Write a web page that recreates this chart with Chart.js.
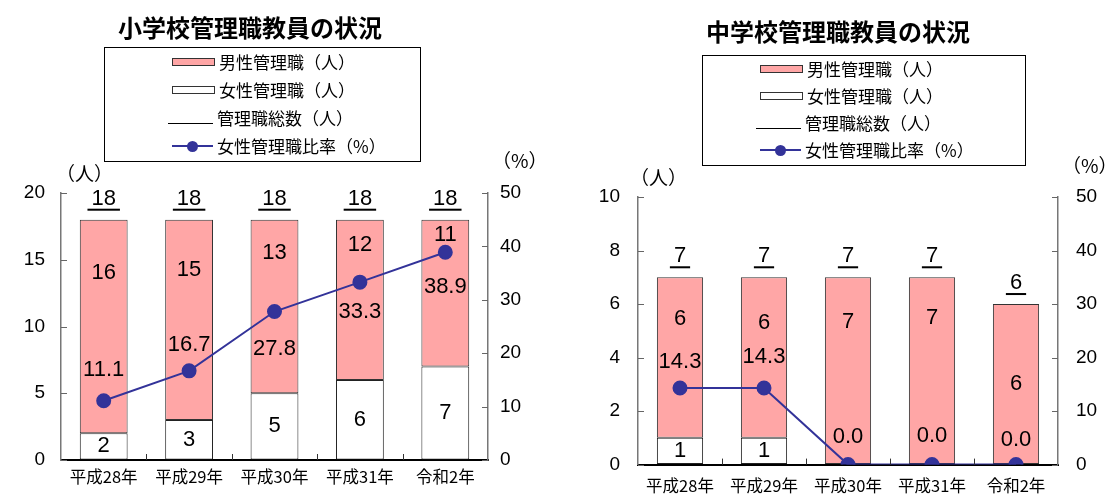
<!DOCTYPE html>
<html>
<head>
<meta charset="utf-8">
<script src="https://cdn.jsdelivr.net/npm/chart.js@4.4.0/dist/chart.umd.min.js"></script>
<style>
  body { margin: 0; background: #fff; width: 1108px; height: 494px; overflow: hidden; position: relative;
         font-family: "Noto Sans CJK JP", sans-serif; color: #000; }
  .pane { position: absolute; top: 0; width: 554px; height: 494px; }
  .pane canvas { position: absolute; left: 0; top: 0; }
  .title { position: absolute; font-weight: bold; font-size: 24px; line-height: 1; white-space: nowrap;
           transform: translateX(-50%); }
  .legend { position: absolute; border: 1px solid #000; box-sizing: border-box; background: #fff; }
  .row { position: absolute; left: 0; height: 20px; display: flex; align-items: center; font-size: 17px;
         line-height: 20px; white-space: nowrap; }
  .sw { display: inline-block; width: 41px; height: 6px; border: 1px solid #333; margin-right: 4px; }
  .ln { display: inline-block; width: 45px; height: 20px; margin-right: 4px; position: relative; }
  .ln.total::after { content: ""; position: absolute; left: 0; right: 0; top: 15px; border-top: 1px solid #000; }
  .ln.ratio::before { content: ""; position: absolute; left: 4px; right: 0; top: 9px; border-top: 2px solid #333399; }
  .ln.ratio::after { content: ""; position: absolute; left: 19px; top: 5px; width: 11px; height: 11px;
                     border-radius: 50%; background: #333399; }
  .unit { position: absolute; font-size: 19px; line-height: 1; white-space: nowrap; }
</style>
</head>
<body>

<div class="pane" style="left:0">
  <canvas id="elem" width="554" height="494"></canvas>
  <div class="title" style="left:250px;top:15px">小学校管理職教員の状況</div>
  <div class="legend" style="left:104px;top:47px;width:317px;height:115px">
    <div class="row" style="left:67px;top:4px"><span class="sw" style="background:#FFA6A6"></span>男性管理職（人）</div>
    <div class="row" style="left:67px;top:32px"><span class="sw" style="background:#fff"></span>女性管理職（人）</div>
    <div class="row" style="left:63px;top:60px"><span class="ln total"></span>管理職総数（人）</div>
    <div class="row" style="left:63px;top:88px"><span class="ln ratio"></span>女性管理職比率（%）</div>
  </div>
  <div class="unit" style="left:56px;top:163px">（人）</div>
  <div class="unit" style="left:492px;top:150px">（%）</div>
</div>

<div class="pane" style="left:554px">
  <canvas id="junior" width="554" height="494"></canvas>
  <div class="title" style="left:284px;top:19px">中学校管理職教員の状況</div>
  <div class="legend" style="left:148px;top:55px;width:324px;height:111px">
    <div class="row" style="left:57px;top:3px"><span class="sw" style="background:#FFA6A6"></span>男性管理職（人）</div>
    <div class="row" style="left:57px;top:30px"><span class="sw" style="background:#fff"></span>女性管理職（人）</div>
    <div class="row" style="left:53px;top:57px"><span class="ln total"></span>管理職総数（人）</div>
    <div class="row" style="left:53px;top:84px"><span class="ln ratio"></span>女性管理職比率（%）</div>
  </div>
  <div class="unit" style="left:76px;top:167px">（人）</div>
  <div class="unit" style="left:508px;top:155px">（%）</div>
</div>

<script>
// categories
var years = ['平成28年', '平成29年', '平成30年', '平成31年', '令和2年']

// 小学校
var elemFemale = [2, 3, 5, 6, 7]
var elemMale = [16, 15, 13, 12, 11]
var elemTotal = [18, 18, 18, 18, 18]
var elemRatio = [11.1, 16.7, 27.8, 33.3, 38.9]

// 中学校
var juniorFemale = [1, 1, 0, 0, 0]
var juniorMale = [6, 6, 7, 7, 6]
var juniorTotal = [7, 7, 7, 7, 6]
var juniorRatio = [14.3, 14.3, 0.0, 0.0, 0.0]

var numFont = '22px "Liberation Sans", Arial, sans-serif'

// value labels drawn on top of the bars / points
var valueLabels = {
  id: 'valueLabels',
  afterDatasetsDraw: function (chart) {
    var ctx = chart.ctx
    ctx.save()
    ctx.font = numFont
    ctx.fillStyle = '#000'
    ctx.textAlign = 'center'
    ctx.textBaseline = 'middle'
    chart.data.datasets.forEach(function (ds, di) {
      var lab = ds.valueLabel
      if (!lab) return
      var meta = chart.getDatasetMeta(di)
      meta.data.forEach(function (el, i) {
        var v = ds.data[i]
        if (lab.skipZero && v === 0) return
        var txt = lab.decimals ? v.toFixed(lab.decimals) : String(v)
        var y
        if (lab.mode === 'segment') y = (el.y + el.base) / 2
        else y = el.y
        y += lab.dy ? lab.dy[i] : 0
        ctx.fillText(txt, el.x, y)
        if (lab.underline) {
          var w = ctx.measureText(txt).width + 8
          ctx.fillRect(el.x - w / 2, y + 10, w, 2)
        }
      })
    })
    ctx.restore()
  }
}

// ticks pointing into the plot area
var innerTicks = {
  id: 'innerTicks',
  afterDraw: function (chart) {
    var ctx = chart.ctx
    var a = chart.chartArea
    ctx.save()
    ctx.lineWidth = 1
    ctx.strokeStyle = '#666'
    ;['y', 'y1'].forEach(function (id) {
      var s = chart.scales[id]
      var x0 = id === 'y' ? a.left : a.right
      var dir = id === 'y' ? 1 : -1
      s.ticks.forEach(function (t) {
        var py = Math.round(s.getPixelForValue(t.value)) + 0.5
        ctx.beginPath()
        ctx.moveTo(x0, py)
        ctx.lineTo(x0 + dir * 6, py)
        ctx.stroke()
      })
    })
    var xs = chart.scales.x
    ctx.strokeStyle = '#333'
    for (var i = 1; i < years.length; i++) {
      var px = Math.round((xs.getPixelForValue(i - 1) + xs.getPixelForValue(i)) / 2) + 0.5
      ctx.beginPath()
      ctx.moveTo(px, a.bottom)
      ctx.lineTo(px, a.bottom - 6)
      ctx.stroke()
    }
    ctx.restore()
  }
}

function makeChart(id, female, male, total, ratio, opt) {
  var ctx = document.getElementById(id)
  return new Chart(ctx, {
    type: 'bar',
    data: {
      labels: years,
      datasets: [{
        label: '女性管理職（人）',
        data: female,
        backgroundColor: '#FFFFFF',
        borderColor: '#222222',
        borderWidth: 1,
        borderSkipped: false,
        barPercentage: opt.barPct,
        categoryPercentage: 1,
        stack: 's',
        order: 2,
        valueLabel: { mode: 'segment', skipZero: true }
      }, {
        label: '男性管理職（人）',
        data: male,
        backgroundColor: '#FFA6A6',
        borderColor: '#333333',
        borderWidth: 1,
        borderSkipped: false,
        barPercentage: opt.barPct,
        categoryPercentage: 1,
        stack: 's',
        order: 2,
        valueLabel: { mode: 'segment', dy: opt.maleDy }
      }, {
        type: 'line',
        label: '管理職総数（人）',
        data: total,
        showLine: false,
        pointRadius: 0,
        order: 1,
        valueLabel: { mode: 'point', dy: [-21, -21, -21, -21, -21], underline: true }
      }, {
        type: 'line',
        label: '女性管理職比率（%）',
        data: ratio,
        yAxisID: 'y1',
        borderColor: '#333399',
        borderWidth: 2,
        pointBackgroundColor: '#333399',
        pointBorderColor: '#333399',
        pointRadius: 6.5,
        tension: 0,
        order: 0,
        valueLabel: { mode: 'point', dy: opt.ratioDy, decimals: 1 }
      }]
    },
    options: {
      responsive: false,
      animation: false,
      layout: { padding: { top: opt.top, left: 0, right: 0, bottom: 0 } },
      plugins: {
        legend: { display: false },
        tooltip: { enabled: false }
      },
      scales: {
        x: {
          stacked: true,
          grid: { drawOnChartArea: false, drawTicks: false },
          border: { color: '#000', width: 2 },
          ticks: { color: '#000', padding: opt.xPad, font: { family: '"Noto Sans CJK JP"', size: 16.5 } },
          afterFit: function (s) { s.height = opt.xH }
        },
        y: {
          stacked: true,
          min: 0,
          max: opt.yMax,
          grid: { drawOnChartArea: false, drawTicks: false },
          border: { color: '#777', width: 1.5 },
          ticks: { stepSize: opt.yStep, color: '#000', padding: opt.yPad,
                   font: { family: '"Liberation Sans"', size: 19 } },
          afterFit: function (s) { s.width = opt.yW }
        },
        y1: {
          position: 'right',
          min: 0,
          max: 50,
          grid: { drawOnChartArea: false, drawTicks: false },
          border: { color: '#777', width: 1.5 },
          ticks: { stepSize: 10, color: '#000', padding: opt.y1Pad,
                   font: { family: '"Liberation Sans"', size: 19 } },
          afterFit: function (s) { s.width = opt.y1W }
        }
      }
    },
    plugins: [valueLabels, innerTicks]
  })
}

makeChart('elem', elemFemale, elemMale, elemTotal, elemRatio, {
  top: 193, xH: 34, yW: 61, y1W: 66, yMax: 20, yStep: 5,
  xPad: 7, yPad: 16, y1Pad: 12, barPct: 0.56,
  maleDy: [-54, -50, -54, -55, -58],
  ratioDy: [-31, -26, 37, 30, 35]
})

makeChart('junior', juniorFemale, juniorMale, juniorTotal, juniorRatio, {
  top: 197, xH: 29, yW: 84, y1W: 50, yMax: 10, yStep: 2,
  xPad: 11, yPad: 18, y1Pad: 18, barPct: 0.55,
  maleDy: [-39, -35, -49, -53, 0],
  ratioDy: [-26, -31, -28, -29, -25]
})
</script>
</body>
</html>
